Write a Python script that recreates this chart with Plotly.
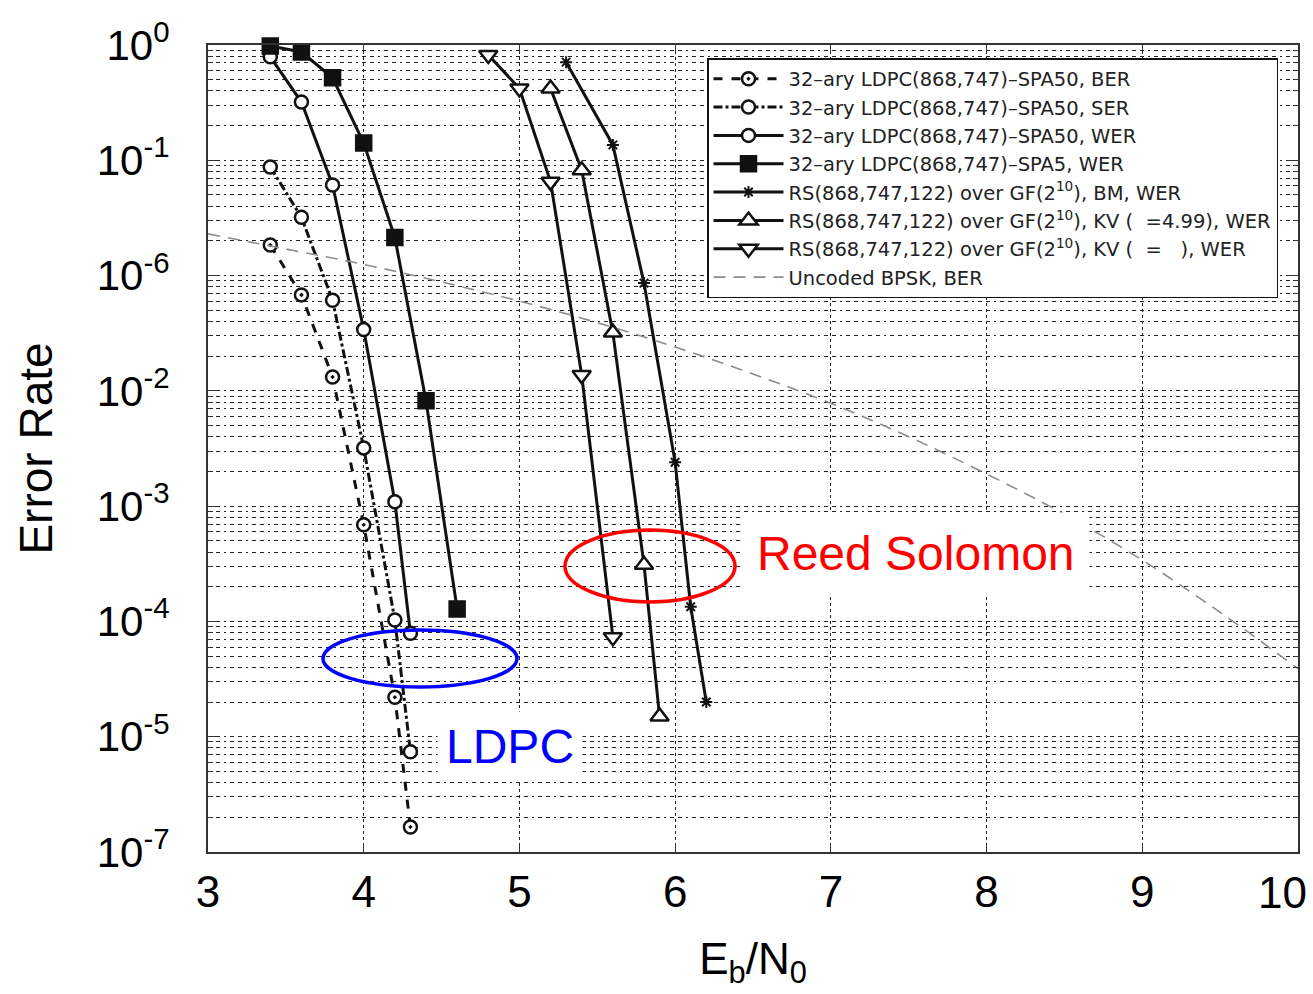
import plotly.graph_objects as go

# ---------------- data ----------------
eb_ldpc = [3.4, 3.6, 3.8, 4.0, 4.2, 4.3]
ldpc_ber = [1.84e-2, 6.8e-3, 1.32e-3, 6.9e-5, 2.2e-6, 1.65e-7]
ldpc_ser = [8.75e-2, 3.2e-2, 6.1e-3, 3.2e-4, 1.03e-5, 7.4e-7]
ldpc_wer50 = [0.79, 0.32, 6.1e-2, 3.4e-3, 1.09e-4, 7.9e-6]

eb_spa5 = [3.4, 3.6, 3.8, 4.0, 4.2, 4.4, 4.6]
ldpc_wer5 = [0.98, 0.87, 0.52, 0.141, 2.14e-2, 8.2e-4, 1.28e-5]

eb_bm = [5.3, 5.6, 5.8, 6.0, 6.1, 6.2]
rs_bm_wer = [0.71, 0.136, 8.6e-3, 2.4e-4, 1.34e-5, 2.0e-6]

eb_kv499 = [5.2, 5.4, 5.6, 5.8, 5.9]
rs_kv499_wer = [0.42, 8.2e-2, 3.2e-3, 3.1e-5, 1.5e-6]

eb_kvinf = [4.8, 5.0, 5.2, 5.4, 5.6]
rs_kvinf_wer = [0.82, 0.42, 6.5e-2, 1.37e-3, 7.3e-6]

eb_bpsk = [3.0, 3.5, 4.0, 4.5, 5.0, 5.5, 6.0, 6.5, 7.0, 7.5, 8.0, 8.5, 9.0, 9.5, 10.0]
bpsk_ber = [2.3e-2, 1.7e-2, 1.25e-2, 8.8e-3, 6.0e-3, 3.9e-3, 2.4e-3, 1.4e-3,
            7.8e-4, 4.0e-4, 1.9e-4, 8.5e-5, 3.4e-5, 1.2e-5, 3.9e-6]

names = [
    "32\u2013ary LDPC(868,747)\u2013SPA50, BER",
    "32\u2013ary LDPC(868,747)\u2013SPA50, SER",
    "32\u2013ary LDPC(868,747)\u2013SPA50, WER",
    "32\u2013ary LDPC(868,747)\u2013SPA5, WER",
    "RS(868,747,122) over GF(2<sup>10</sup>), BM, WER",
    "RS(868,747,122) over GF(2<sup>10</sup>), KV (  =4.99), WER",
    "RS(868,747,122) over GF(2<sup>10</sup>), KV (  =   ), WER",
    "Uncoded BPSK, BER",
]

x_ticks = [3, 4, 5, 6, 7, 8, 9, 10]
x_ticktext = ["3", "4", "5", "6", "7", "8", "9", ""]
x_last_label = "10"   # drawn right-aligned at the axis end, as in the reference
y_tickvals = [1, 1e-1, 1e-2, 1e-3, 1e-4, 1e-5, 1e-6, 1e-7]
y_ticktext = ["10<sup>0</sup>", "10<sup>-1</sup>", "10<sup>-6</sup>", "10<sup>-2</sup>",
              "10<sup>-3</sup>", "10<sup>-4</sup>", "10<sup>-5</sup>", "10<sup>-7</sup>"]
y_minor = [k * 10.0 ** (-d) for d in range(1, 8) for k in range(2, 10)]

K = "#111111"
FONT = "Liberation Sans, Arial"
fig = go.Figure()

def add(x, y, name, dash, symbol, size, filled=False, lw=3):
    fig.add_trace(go.Scatter(
        x=x, y=y, name=name, mode="lines+markers", cliponaxis=False,
        line=dict(color=K, width=lw, dash=dash),
        marker=dict(symbol=symbol, size=size, color=K if filled else "white",
                    line=dict(color=K, width=2.5)),
    ))

add(eb_ldpc, ldpc_ber, names[0], "dash", "circle-dot", 13)
add(eb_ldpc, ldpc_ser, names[1], "dashdot", "circle", 13)
add(eb_ldpc, ldpc_wer50, names[2], "solid", "circle", 13)
add(eb_spa5, ldpc_wer5, names[3], "solid", "square", 15, filled=True)
fig.add_trace(go.Scatter(
    x=eb_bm, y=rs_bm_wer, name=names[4], mode="lines+markers", cliponaxis=False,
    line=dict(color=K, width=3),
    marker=dict(symbol="asterisk-open", size=10, color=K, line=dict(color=K, width=2)),
))
add(eb_kv499, rs_kv499_wer, names[5], "solid", "triangle-up", 16)
add(eb_kvinf, rs_kvinf_wer, names[6], "solid", "triangle-down", 16)
fig.add_trace(go.Scatter(
    x=eb_bpsk, y=bpsk_ber, name=names[7], mode="lines",
    line=dict(color="#8c8c8c", width=1.6, dash="12px,8px", shape="spline"),
))

griddash = "4px,4px,4px,4px,2px,4px"
fig.update_xaxes(
    range=[3, 10], tickvals=x_ticks, ticktext=x_ticktext,
    automargin=False,
    showgrid=True, gridcolor="#222", gridwidth=1.3, griddash="dot",
    showline=True, linecolor="#333", linewidth=2, mirror="ticks",
    ticks="inside", ticklen=8, tickcolor="#333",
    tickfont=dict(family=FONT, size=44, color="black"),
    title=dict(text="E<sub>b</sub>/N<sub>0</sub>", font=dict(family=FONT, size=44, color="black"), standoff=28),
    zeroline=False,
)
fig.update_yaxes(
    type="log", range=[-7, 0], tickvals=y_tickvals, ticktext=y_ticktext,
    showgrid=True, gridcolor="#222", gridwidth=1.3, griddash=griddash,
    minor=dict(tickvals=y_minor, showgrid=True, gridcolor="#222", gridwidth=1.3,
               griddash=griddash, ticks="inside", ticklen=5, tickcolor="#333"),
    showline=True, linecolor="#333", linewidth=2, mirror="ticks",
    ticks="inside", ticklen=10, tickcolor="#333",
    tickfont=dict(family=FONT, size=42, color="black"),
    ticklabelstandoff=28,
    title=dict(text="Error Rate", font=dict(family=FONT, size=46, color="black"), standoff=30),
    zeroline=False,
)

fig.add_annotation(x=1.0, y=(852 - 892) / 807, xref="paper", yref="paper",
                   xanchor="right", yanchor="middle", xshift=11,
                   text=x_last_label, showarrow=False,
                   font=dict(family=FONT, size=44, color="black"))

fig.add_shape(type="circle", xref="paper", yref="paper",
              x0=0.3275, x1=0.4835, y0=0.3098, y1=0.399,
              line=dict(color="#ff0000", width=3.5))
fig.add_shape(type="circle", xref="paper", yref="paper",
              x0=0.1055, x1=0.2835, y0=0.2045, y1=0.275,
              line=dict(color="#0000ff", width=3.5))

fig.add_annotation(x=(916 - 208) / 1090, y=(852 - 553) / 807, xref="paper", yref="paper",
                   xanchor="center", yanchor="middle",
                   text="Reed Solomon", showarrow=False, bgcolor="white", borderpad=14,
                   font=dict(family=FONT, size=48, color="#ff0000"))
fig.add_annotation(x=(510 - 208) / 1090, y=(852 - 746) / 807, xref="paper", yref="paper",
                   xanchor="center", yanchor="middle",
                   text="LDPC", showarrow=False, bgcolor="white", borderpad=8,
                   font=dict(family=FONT, size=48, color="#0000ff"))

fig.update_layout(
    width=1313, height=994,
    margin=dict(l=208, r=15, t=45, b=142),
    paper_bgcolor="white", plot_bgcolor="white",
    showlegend=True,
    legend=dict(x=(707 - 208) / 1090, y=(852 - 58) / 807, xanchor="left", yanchor="top",
                bgcolor="white", bordercolor="#111", borderwidth=1.5,
                font=dict(family="DejaVu Sans", size=19.5, color="#222"),
                itemwidth=70, tracegroupgap=0),
)

fig.write_html("out.html")
